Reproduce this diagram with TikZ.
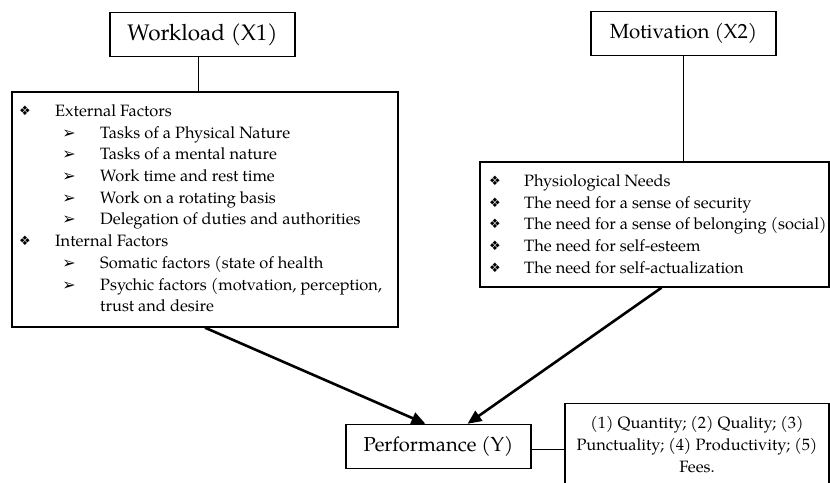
\documentclass[tikz,border=0pt]{standalone}
\usepackage{fontspec}
\setmainfont{TeX Gyre Pagella}
\newfontfamily\dingfont{DejaVu Sans}
\usetikzlibrary{arrows.meta}

\newcommand{\bulA}{{\dingfont\fontsize{13}{13}\selectfont ❖}}
\newcommand{\bulB}{{\dingfont\fontsize{16}{16}\selectfont ➢}}

\tikzset{
    topbox/.style={draw, line width=1.4pt, minimum width=185pt, minimum height=44pt,
        font=\fontsize{21}{25}\selectfont},
    listbox/.style={draw, line width=1.4pt},
    item/.style={anchor=base west, inner sep=0pt, font=\fontsize{16.4}{21.7}\selectfont},
    mark point/.style={anchor=base, inner sep=0pt},
    link/.style={line width=1.2pt},
    push/.style={line width=2.6pt, -{Triangle[length=14pt,width=12pt]}},
}

\begin{document}
\begin{tikzpicture}[x=1pt,y=1pt]
    \useasboundingbox (0,0) rectangle (830,482);
    % variable boxes
    \node[topbox, font=\fontsize{22.5}{26}\selectfont] (load) at (202.5,447.5) {Workload (X1)};
    \node[topbox, font=\fontsize{20.5}{24}\selectfont] (motiv) at (683.5,448.5) {Motivation (X2)};
    \node[topbox, font=\fontsize{20.2}{24}\selectfont] (perf) at (438.5,35.5) {Performance (Y)};
    % indicator boxes
    \node[listbox, minimum width=386pt, minimum height=235pt] (loadlist) at (205,272.5) {};
    \node[listbox, minimum width=349pt, minimum height=125pt] (motivlist) at (654.5,257.5) {};
    \node[listbox, anchor=north, minimum width=264pt, inner ysep=13pt, align=center,
        font=\fontsize{16.4}{21.7}\selectfont] (fees) at (697,79)
        {(1) Quantity; (2) Quality; (3)\\Punctuality; (4) Productivity; (5)\\Fees.};

    % workload indicators
    \foreach \lvl/\txt [count=\i from 0] in {0/External Factors, 1/Tasks of a Physical Nature,
        1/Tasks of a mental nature, 1/Work time and rest time, 1/Work on a rotating basis,
        1/Delegation of duties and authorities, 0/Internal Factors,
        1/Somatic factors (state of health, 1/{Psychic factors (motvation, perception,},
        2/trust and desire}{
        \pgfmathsetmacro\yy{365.5-21.7*\i}
        \ifcase\lvl
            \node[mark point] (lb\i) at (25,\yy+1) {\bulA};
            \node[item] (lt\i) at (55,\yy) {\txt};
        \or
            \node[mark point] (lb\i) at (69,\yy) {\bulB};
            \node[item] (lt\i) at (100,\yy) {\txt};
        \or
            \node[item] (lt\i) at (100,\yy) {\txt};
        \fi
    }

    % motivation indicators
    \foreach \txt [count=\i from 0] in {Physiological Needs, The need for a sense of security,
        The need for a sense of belonging (social), The need for self-esteem,
        The need for self-actualization}{
        \pgfmathsetmacro\yy{295.5-21.7*\i}
        \node[mark point] (rb\i) at (495,\yy+1) {\bulA};
        \node[item] (rt\i) at (524,\yy) {\txt};
    }

    % connectors
    \draw[link] ([xshift=-4pt]load.south) -- ([xshift=-4pt]load.south |- loadlist.north);
    \draw[link] (motiv.south) -- (motiv.south |- motivlist.north);
    \draw[link] ([yshift=-3pt]perf.east) -- ([yshift=-3pt]perf.east -| fees.west);
    \draw[push] (loadlist.south) -- ([xshift=-13pt]perf.north);
    \draw[push] ([xshift=7pt]motivlist.south) -- ([xshift=29pt]perf.north);
\end{tikzpicture}
\end{document}
